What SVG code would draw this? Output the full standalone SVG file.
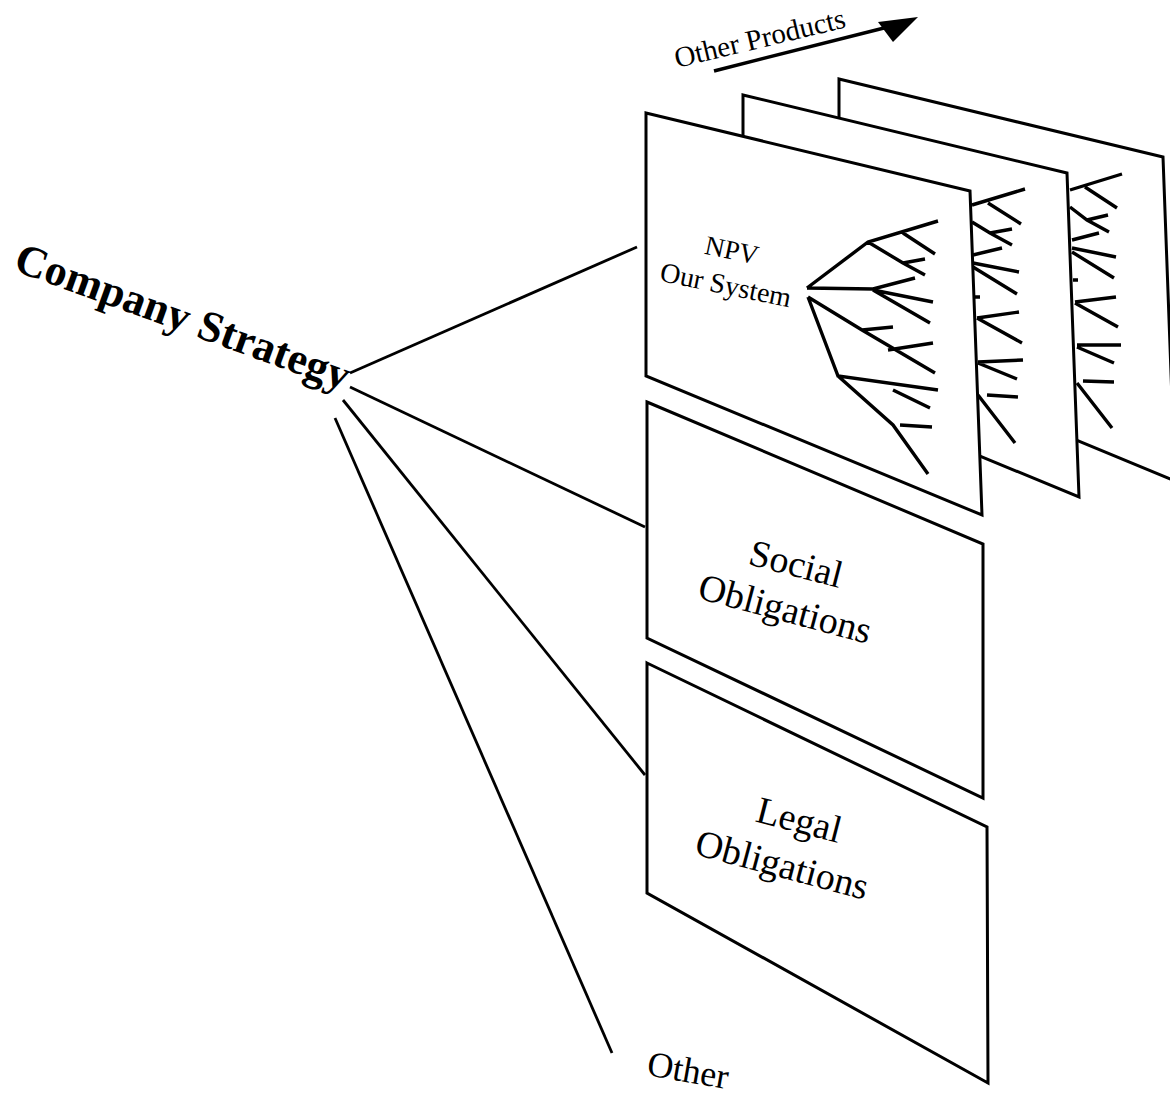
<svg xmlns="http://www.w3.org/2000/svg" width="1170" height="1100" viewBox="0 0 1170 1100">
  <style>
    .panel { fill: #fff; stroke: #000; stroke-width: 3; stroke-linejoin: miter; }
    .tree { fill: none; stroke: #000; stroke-width: 3.4; stroke-linecap: butt; stroke-linejoin: miter; }
    .conn { stroke: #000; stroke-width: 2.8; fill: none; }
    .lbl { font-family: "Liberation Serif", "Times New Roman", serif; fill: #000; }
  </style>
  <defs>
    <polygon id="sheet" points="646,113 970,191 982,515 646,376"/>
  </defs>
  <rect width="1170" height="1100" fill="#fff"/>

  <!-- "Other Products" direction arrow -->
  <g id="other-products">
    <text class="lbl" font-size="29" text-anchor="start" transform="translate(677,68) rotate(-13.5)">Other Products</text>
    <line x1="714" y1="71" x2="888" y2="27" stroke="#000" stroke-width="3.4"/>
    <polygon points="918,17 878,22 893,42" fill="#000"/>
  </g>

  <!-- rear product sheet -->
  <g id="product-sheet-3">
    <use href="#sheet" class="panel" transform="translate(193,-34)"/>
    <path class="tree" d="M1070,190 L1122,174 M1085,187 L1117,208 M1070,207 L1087,220 L1109,232 M1087,220 L1108,215 M1072,240 L1099,233 M1072,248 L1116,257 M1072,252 L1114,278 M1073,280 L1078,280 M1075,302 L1116,297 M1075,303 L1118,327 M1077,345 L1121,345 M1077,347 L1114,363 M1083,381 L1114,382 M1077,383 L1112,428"/>
  </g>

  <!-- middle product sheet -->
  <g id="product-sheet-2">
    <use href="#sheet" class="panel" transform="translate(97,-18)"/>
    <path class="tree" d="M972,205 L1025,189 M988,203 L1021,224 M972,222 L990,233 L1012,245 M990,233 L1012,229 M973,255 L1002,248 M973,263 L1019,272 M973,267 L1017,294 M973,297 L980,297 M977,318 L1019,312 M977,318 L1022,343 M978,362 L1023,360 M978,363 L1017,379 M987,395 L1018,397 M978,395 L1015,443"/>
  </g>

  <!-- front sheet: NPV decision tree -->
  <g id="npv-our-system">
    <use href="#sheet" class="panel"/>
    <text class="lbl" font-size="27" text-anchor="middle" transform="translate(730,259) rotate(12)">NPV</text>
    <text class="lbl" font-size="28" text-anchor="middle" transform="translate(724,294) rotate(11.5)">Our System</text>
    <path class="tree" d="M807,288 L868,242 L938,221 M903,233 L935,254 M868,242 L903,263 L925,275 M903,263 L925,259 M807,288 L873,289 L915,278 M873,290 L933,302 M873,290 L930,323 M808,297 L862,330 L935,373 M862,330 L893,327 M888,350 L933,343 M808,297 L838,376 L938,390 M893,390 L930,408 M838,376 L893,425 L928,474 M900,425 L932,427"/>
  </g>

  <!-- social obligations sheet -->
  <g id="social-obligations">
    <polygon class="panel" points="647,402 983,544 983,798 647,638"/>
    <text class="lbl" font-size="38" text-anchor="middle" transform="translate(793,576) rotate(14.5)">Social</text>
    <text class="lbl" font-size="38" text-anchor="middle" transform="translate(782,621) rotate(15)">Obligations</text>
  </g>

  <!-- legal obligations sheet -->
  <g id="legal-obligations">
    <polygon class="panel" points="647,663 987,827 988,1083 647,893"/>
    <text class="lbl" font-size="38" text-anchor="middle" transform="translate(796,832) rotate(14.5)">Legal</text>
    <text class="lbl" font-size="38" text-anchor="middle" transform="translate(779,877) rotate(15)">Obligations</text>
  </g>

  <!-- root label -->
  <g id="company-strategy">
    <text class="lbl" font-size="44" font-weight="bold" text-anchor="start" transform="translate(12,270) rotate(20)">Company Strategy</text>
  </g>

  <!-- catch-all branch label -->
  <g id="other">
    <text class="lbl" font-size="36" text-anchor="middle" transform="translate(686,1082) rotate(10)">Other</text>
  </g>

  <!-- strategy branches -->
  <g id="connectors">
    <line class="conn" x1="350" y1="373" x2="637" y2="247"/>
    <line class="conn" x1="350" y1="387" x2="645" y2="527"/>
    <line class="conn" x1="343" y1="400" x2="645" y2="775"/>
    <line class="conn" x1="335" y1="418" x2="612" y2="1053"/>
  </g>
</svg>
